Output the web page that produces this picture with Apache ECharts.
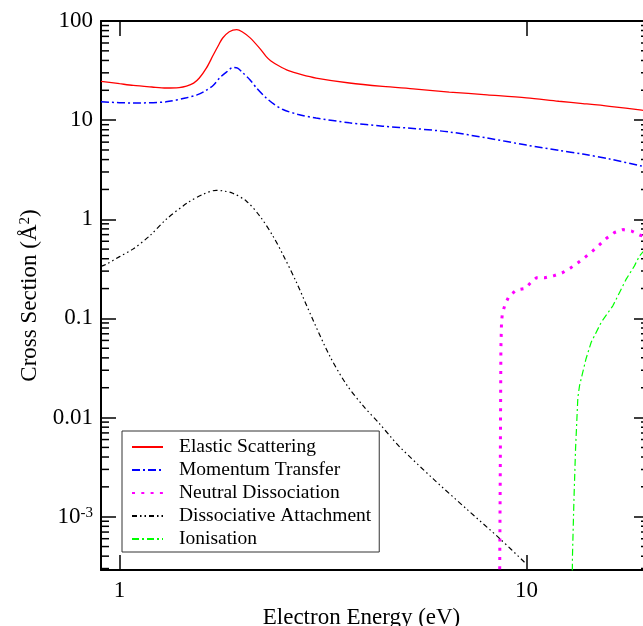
<!DOCTYPE html>
<html>
<head>
<meta charset="utf-8">
<title>Electron cross sections</title>
<script src="https://cdn.jsdelivr.net/npm/echarts@6/dist/echarts.min.js"></script>
<style>
  html, body { margin: 0; padding: 0; background: #fff; }
  #chart { width: 643px; height: 626px; }
</style>
</head>
<body>
<div id="chart"></div>
<script>
// energies in eV, cross sections in A^2
const elasticEnergy = [0.9, 1.0, 1.08, 1.2, 1.3, 1.4, 1.46, 1.52, 1.57, 1.635, 1.7, 1.75, 1.79, 1.86, 1.94, 2.0, 2.09, 2.21, 2.29, 2.35, 2.46, 2.6, 2.8, 3.04, 3.67, 4.43, 5.35, 6.46, 8.0, 10, 12, 13.75, 16, 19.2, 20];
const elasticSigma = [24.6, 23.3, 22.4, 21.6, 21.1, 21.3, 22.0, 23.6, 26.6, 33.6, 45.7, 57, 67, 78, 82, 78, 68, 53, 44, 39.8, 35.4, 31.6, 28.8, 26.6, 23.7, 21.9, 20.6, 19.2, 18, 16.8, 15.5, 14.7, 13.8, 12.6, 12.3];

const momentumEnergy = [0.9, 1.08, 1.3, 1.46, 1.55, 1.63, 1.7, 1.76, 1.83, 1.9, 1.95, 2.01, 2.09, 2.17, 2.29, 2.4, 2.52, 2.75, 3.04, 3.67, 4.43, 5.35, 6.46, 8.0, 10, 12, 13.75, 16, 19.2, 20];
const momentumSigma = [15.3, 14.9, 15.3, 16.8, 18, 19.9, 22.5, 26.6, 30.5, 34.0, 33.5, 29.9, 25.6, 21.1, 16.8, 14.4, 12.8, 11.4, 10.5, 9.4, 8.7, 8.2, 7.6, 6.6, 5.6, 4.95, 4.55, 4.06, 3.44, 3.35];

const neutralEnergy = [8.58, 8.62, 8.65, 8.68, 8.72, 8.85, 9.05, 9.43, 9.94, 10.23, 10.57, 11.09, 11.65, 12.23, 12.8, 13.4, 13.96, 14.55, 15.1, 15.7, 16.45, 17.25, 18.1, 18.95, 20];
const neutralSigma = [0.0001, 0.003, 0.05, 0.09, 0.111, 0.137, 0.167, 0.193, 0.201, 0.229, 0.257, 0.257, 0.269, 0.288, 0.321, 0.366, 0.417, 0.48, 0.551, 0.64, 0.735, 0.787, 0.762, 0.695, 0.65];

const attachEnergy = [0.9, 0.927, 1.0, 1.078, 1.185, 1.302, 1.47, 1.6, 1.728, 1.8, 1.897, 2.047, 2.21, 2.38, 2.52, 2.72, 2.98, 3.28, 3.6, 3.96, 4.36, 4.65, 4.88, 5.89, 7.1, 8.6, 9.94];
const attachSigma = [0.335, 0.352, 0.42, 0.5, 0.68, 1.0, 1.47, 1.78, 1.96, 1.93, 1.83, 1.53, 1.08, 0.68, 0.44, 0.231, 0.0986, 0.0422, 0.0219, 0.01325, 0.0086, 0.0063, 0.00505, 0.00242, 0.00121, 0.0006, 0.00034];

const ionEnergy = [12.93, 12.97, 13.08, 13.2, 13.37, 13.5, 13.75, 14.0, 14.42, 15.26, 16.3, 16.93, 17.58, 18.42, 18.95, 20];
const ionSigma = [0.0001, 0.0004, 0.0015, 0.0049, 0.0158, 0.021, 0.0287, 0.039, 0.0575, 0.0913, 0.134, 0.183, 0.249, 0.339, 0.427, 0.55];

const seriesNames = ['Elastic Scattering', 'Momentum Transfer', 'Neutral Dissociation', 'Dissociative Attachment', 'Ionisation'];

// tick labels by decade exponent
const yTickLabels = { '2': '100', '1': '10', '0': '1', '-1': '0.1', '-2': '0.01', '-3': '{b|10}{s|-3}' };
const xTickLabels = { '0': '1', '1': '10' };
const minorSteps = [2, 3, 4, 5, 6, 7, 8, 9];
const minorDecades = [-4, -3, -2, -1, 0, 1];

const xMin = 0.9, xMax = 20;
const yMin = 0.00029, yMax = 100;
const font = 'Liberation Serif';

const pairs = (xs, ys) => xs.map((x, i) => [x, ys[i]]);

// only label exact powers of ten
function decadeLabel (v, table) {
  const e = Math.log10(v);
  const r = Math.round(e);
  if (Math.abs(e - r) > 1e-6) return '';
  return table[String(r)] || '';
}

const minorTickData = [];
minorDecades.forEach(d => {
  minorSteps.forEach(k => {
    const v = k * Math.pow(10, d);
    if (v > yMin && v < yMax) minorTickData.push([1, v]);
  });
});

const chart = echarts.init(document.getElementById('chart'));

const frameLine = { show: true, lineStyle: { color: '#000', width: 2 } };

const option = {
  animation: false,
  backgroundColor: '#fff',
  // the frame runs a little past the right edge of the window
  grid: { left: 101, top: 21, right: -6, bottom: 56, containLabel: false, outerBoundsMode: 'none' },
  legend: {
    data: seriesNames,
    orient: 'vertical',
    left: 122,
    top: 431,
    padding: [6, 8, 3, 9],
    itemWidth: 31,
    itemHeight: 14,
    itemGap: 3,
    borderColor: '#333',
    borderWidth: 1,
    backgroundColor: '#fff',
    itemStyle: { opacity: 0 },
    textStyle: { fontFamily: font, fontSize: 19.5, color: '#000', padding: [0, 0, 0, 11] }
  },
  xAxis: [
    {
      type: 'log', logBase: 10, min: xMin, max: xMax, position: 'bottom',
      axisLine: frameLine,
      axisTick: { inside: true, length: 15, lineStyle: { color: '#000', width: 1.5 } },
      axisLabel: { margin: 9, fontFamily: font, fontSize: 23, color: '#000', showMinLabel: false, showMaxLabel: false,
        formatter: v => decadeLabel(v, xTickLabels) },
      splitLine: { show: false },
      name: 'Electron Energy (eV)', nameLocation: 'middle', nameGap: 24,
      nameTextStyle: { fontFamily: font, fontSize: 23, color: '#000', padding: [0, 27, 0, 0] }
    },
    {
      type: 'log', logBase: 10, min: xMin, max: xMax, position: 'top',
      axisLine: frameLine,
      axisTick: { inside: true, length: 15, lineStyle: { color: '#000', width: 1.5 } },
      axisLabel: { show: false },
      splitLine: { show: false }
    }
  ],
  yAxis: [
    {
      type: 'log', logBase: 10, min: yMin, max: yMax, position: 'left',
      axisLine: frameLine,
      axisTick: { inside: true, length: 15, lineStyle: { color: '#000', width: 1.5 } },
      axisLabel: {
        margin: 8, fontFamily: font, fontSize: 23, color: '#000', showMinLabel: false,
        formatter: v => decadeLabel(v, yTickLabels),
        rich: {
          b: { fontFamily: font, fontSize: 23, color: '#000', verticalAlign: 'bottom' },
          s: { fontFamily: font, fontSize: 15, color: '#000', verticalAlign: 'top' }
        }
      },
      splitLine: { show: false },
      name: 'Cross Section (Å{s|2})', nameLocation: 'middle', nameGap: 60,
      nameTextStyle: {
        fontFamily: font, fontSize: 23, color: '#000',
        rich: { s: { fontFamily: font, fontSize: 15, color: '#000', verticalAlign: 'top' } }
      }
    },
    {
      type: 'log', logBase: 10, min: yMin, max: yMax, position: 'right',
      axisLine: frameLine,
      axisTick: { inside: true, length: 15, lineStyle: { color: '#000', width: 1.5 } },
      axisLabel: { show: false },
      splitLine: { show: false }
    }
  ],
  series: [
    {
      name: seriesNames[0], type: 'line', symbol: 'none', data: pairs(elasticEnergy, elasticSigma),
      smooth: 0.3, lineStyle: { color: '#ff0000', width: 1.3, type: 'solid' }, itemStyle: { color: '#ff0000' }
    },
    {
      name: seriesNames[1], type: 'line', symbol: 'none', data: pairs(momentumEnergy, momentumSigma),
      smooth: 0.3, lineStyle: { color: '#0000ff', width: 1.5, type: [8, 3, 2, 3] }, itemStyle: { color: '#0000ff' }
    },
    {
      name: seriesNames[2], type: 'line', symbol: 'none', data: pairs(neutralEnergy, neutralSigma),
      lineStyle: { color: '#ff00ff', width: 3, type: [3, 6.3] }, itemStyle: { color: '#ff00ff' }
    },
    {
      name: seriesNames[3], type: 'line', symbol: 'none', data: pairs(attachEnergy, attachSigma),
      smooth: 0.3, lineStyle: { color: '#000', width: 1.2, type: [5, 3, 1.5, 3, 1.5, 3] }, itemStyle: { color: '#000' }
    },
    {
      name: seriesNames[4], type: 'line', symbol: 'none', data: pairs(ionEnergy, ionSigma),
      lineStyle: { color: '#00ff00', width: 1.2, type: [7, 3, 2, 3] }, itemStyle: { color: '#00ff00' }
    },
    {
      // minor ticks at 2..9 x 10^n on the left and right frame
      type: 'custom', silent: true, data: minorTickData,
      renderItem (params, api) {
        const v = api.value(1);
        const l = api.coord([xMin, v]);
        const r = api.coord([xMax, v]);
        const st = { stroke: '#000', lineWidth: 1.5 };
        return {
          type: 'group',
          children: [
            { type: 'line', shape: { x1: l[0], y1: l[1], x2: l[0] + 8, y2: l[1] }, style: st },
            { type: 'line', shape: { x1: r[0] - 8, y1: r[1], x2: r[0], y2: r[1] }, style: st }
          ]
        };
      }
    }
  ]
};

chart.setOption(option);
</script>
</body>
</html>
